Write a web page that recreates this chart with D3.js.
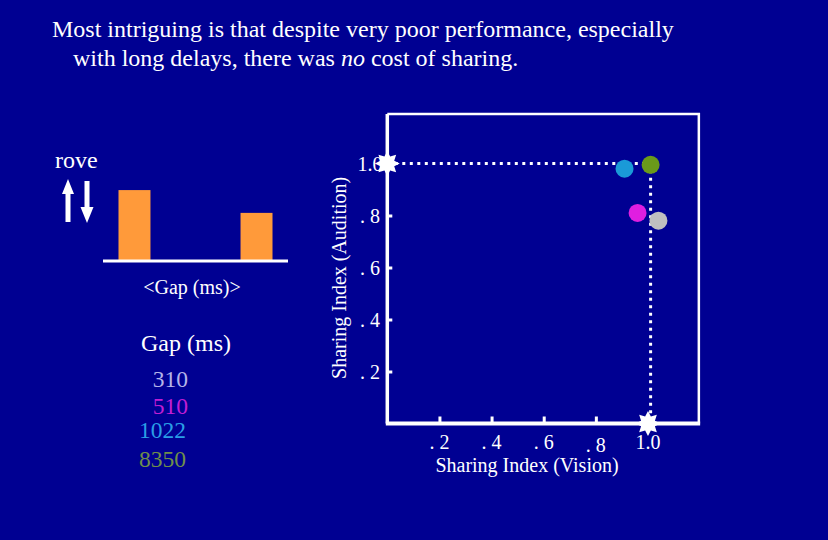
<!doctype html>
<html lang="en">
  <head>
    <meta charset="UTF-8" />
    <title>Sharing Index</title>
    <script src="https://unpkg.com/d3@7.9.0/dist/d3.min.js"></script>
    <style>
      body {
        margin: 0;
        background: #000092;
        overflow: hidden;
      }
      svg {
        display: block;
        font-family: 'Liberation Serif', 'Times New Roman', serif;
      }
    </style>
  </head>
  <body>
    <svg width="828" height="540"></svg>

    <script>
      // bar panel (rove condition)
      const barCats = ['short', 'long'];
      const barValues = [0.92, 0.62];

      // legend / gap conditions
      const gaps = ['310', '510', '1022', '8350'];
      const gapColors = ['#b4b4e8', '#c21ed4', '#2a9ee6', '#6f8f4a'];
      const dotColors = ['#c0c0c0', '#e01ee0', '#1a9ad8', '#6a9a1a'];

      // sharing index: vision (x), audition (y)
      const vision = [1.04, 0.96, 0.91, 1.01];
      const audition = [0.78, 0.81, 0.98, 0.995];

      const xTicks = [0.2, 0.4, 0.6, 0.8, 1.0];
      const yTicks = [0.2, 0.4, 0.6, 0.8, 1.0];
      const tickText = (d) => (d === 1 ? '1.0' : '. ' + String(d).slice(2));

      const svg = d3.select('svg');

      // title
      const title = svg
        .append('text')
        .attr('fill', '#fff')
        .style('font-size', '24px');
      title
        .append('tspan')
        .attr('x', 52)
        .attr('y', 37)
        .text('Most intriguing is that despite very poor performance, especially');
      const l2 = title.append('tspan').attr('x', 73).attr('y', 66);
      l2.text('with long delays, there was ');
      title.append('tspan').style('font-style', 'italic').text('no');
      title.append('tspan').text(' cost of sharing.');

      // ---- left: bar panel ----
      const bx = d3
        .scaleBand()
        .domain(barCats)
        .range([103, 288])
        .paddingInner(0.738)
        .paddingOuter(0.127);
      const by = d3.scaleLinear().domain([0, 1]).range([260, 184]);

      svg
        .append('text')
        .attr('x', 55)
        .attr('y', 168)
        .attr('fill', '#fff')
        .style('font-size', '24px')
        .text('rove');

      // up / down arrows
      const arrows = svg.append('g').attr('fill', '#fff');
      arrows
        .append('path')
        .attr('d', 'M68,179 L74,194 L70.5,194 L70.5,222 L65.5,222 L65.5,194 L62,194 Z');
      arrows
        .append('path')
        .attr('d', 'M87,223 L93.5,207 L89.5,207 L89.5,181 L84.5,181 L84.5,207 L80.5,207 Z');

      svg
        .selectAll('.bar')
        .data(barValues)
        .enter()
        .append('rect')
        .attr('class', 'bar')
        .attr('x', (d, i) => bx(barCats[i]))
        .attr('y', (d) => by(d))
        .attr('width', bx.bandwidth())
        .attr('height', (d) => by(0) - by(d))
        .attr('fill', '#ff9a3a');

      svg
        .append('line')
        .attr('x1', 103)
        .attr('x2', 288)
        .attr('y1', 261)
        .attr('y2', 261)
        .attr('stroke', '#fff')
        .attr('stroke-width', 3);

      svg
        .append('text')
        .attr('x', 192)
        .attr('y', 294)
        .attr('text-anchor', 'middle')
        .attr('fill', '#fff')
        .style('font-size', '20px')
        .text('<Gap (ms)>');

      svg
        .append('text')
        .attr('x', 186)
        .attr('y', 351)
        .attr('text-anchor', 'middle')
        .attr('fill', '#fff')
        .style('font-size', '24px')
        .text('Gap (ms)');

      const legendY = [387, 414, 438, 467];
      const legendX = [188, 188, 186, 186];
      svg
        .selectAll('.gap')
        .data(gaps)
        .enter()
        .append('text')
        .attr('class', 'gap')
        .attr('x', (d, i) => legendX[i])
        .attr('y', (d, i) => legendY[i])
        .attr('text-anchor', 'end')
        .attr('fill', (d, i) => gapColors[i])
        .style('font-size', '23.5px')
        .text((d) => d);

      // ---- right: scatter ----
      const x = d3.scaleLinear().domain([0, 1]).range([387.3, 648]);
      const y = d3.scaleLinear().domain([0, 1]).range([423.5, 163.5]);

      const plot = svg.append('g');

      // frame
      plot
        .append('path')
        .attr('d', `M${x(0)},${y(1.19)} H${x(1.195)} V${y(0)}`)
        .attr('fill', 'none')
        .attr('stroke', '#fff')
        .attr('stroke-width', 2.5);

      const yAxis = plot
        .append('g')
        .attr('transform', `translate(${x(0)},0)`)
        .call(
          d3
            .axisRight(y)
            .tickValues(yTicks)
            .tickSize(5)
            .tickFormat(''),
        );
      yAxis.select('.domain').remove();
      yAxis.selectAll('.tick line').attr('stroke', '#fff').attr('stroke-width', 3);

      plot
        .selectAll('.ylab')
        .data(yTicks)
        .enter()
        .append('text')
        .attr('class', 'ylab')
        .attr('x', 370)
        .attr('y', (d) => y(d) + 7)
        .attr('text-anchor', 'middle')
        .attr('fill', '#fff')
        .style('font-size', '20px')
        .text(tickText);

      const xAxis = plot
        .append('g')
        .attr('transform', `translate(0,${y(0)})`)
        .call(
          d3
            .axisTop(x)
            .tickValues(xTicks.slice(0, 4))
            .tickSize(7)
            .tickFormat(''),
        );
      xAxis.select('.domain').remove();
      xAxis.selectAll('.tick line').attr('stroke', '#fff').attr('stroke-width', 3);

      plot
        .selectAll('.xlab')
        .data(xTicks)
        .enter()
        .append('text')
        .attr('class', 'xlab')
        .attr('x', (d) => x(d))
        .attr('y', (d) => (d === 0.8 ? 452 : 449))
        .attr('text-anchor', 'middle')
        .attr('fill', '#fff')
        .style('font-size', '20px')
        .text(tickText);

      // axis lines
      plot
        .append('line')
        .attr('x1', x(0))
        .attr('x2', x(0))
        .attr('y1', y(1.19))
        .attr('y2', y(0))
        .attr('stroke', '#fff')
        .attr('stroke-width', 3.5);
      plot
        .append('line')
        .attr('x1', x(0) - 1.5)
        .attr('x2', x(1.2))
        .attr('y1', y(0))
        .attr('y2', y(0))
        .attr('stroke', '#fff')
        .attr('stroke-width', 4);

      // dotted reference lines at 1.0
      plot
        .append('path')
        .attr('d', `M${x(0)},${y(1)} H${x(1.01)} V${y(0)}`)
        .attr('fill', 'none')
        .attr('stroke', '#fff')
        .attr('stroke-width', 3)
        .attr('stroke-dasharray', '3,4.5');

      // stars
      const star = d3.lineRadial().curve(d3.curveLinearClosed)(
        d3.range(16).map((i) => [(i * Math.PI) / 8, i % 2 ? 7.5 : 12.5]),
      );
      plot
        .selectAll('.star')
        .data([
          [0, 1],
          [1, 0],
        ])
        .enter()
        .append('path')
        .attr('class', 'star')
        .attr('transform', (d) => `translate(${x(d[0])},${y(d[1])})`)
        .attr('d', star)
        .attr('fill', '#fff');

      plot
        .selectAll('.dot')
        .data(gaps)
        .enter()
        .append('circle')
        .attr('class', 'dot')
        .attr('cx', (d, i) => x(vision[i]))
        .attr('cy', (d, i) => y(audition[i]))
        .attr('r', 9)
        .attr('fill', (d, i) => dotColors[i]);

      plot
        .append('text')
        .attr('transform', `translate(346,${y(0.56)}) rotate(-90)`)
        .attr('text-anchor', 'middle')
        .attr('fill', '#fff')
        .style('font-size', '20px')
        .text('Sharing Index (Audition)');

      plot
        .append('text')
        .attr('x', 527)
        .attr('y', 472)
        .attr('text-anchor', 'middle')
        .attr('fill', '#fff')
        .style('font-size', '20px')
        .text('Sharing Index (Vision)');
    </script>
  </body>
</html>
